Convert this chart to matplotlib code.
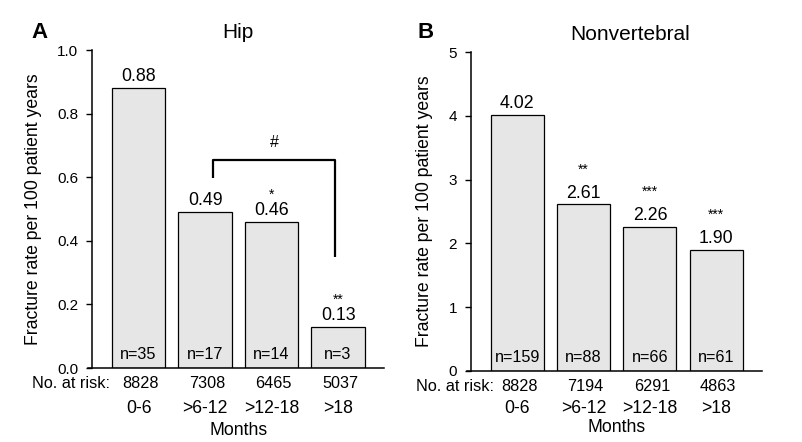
import matplotlib
matplotlib.use("Agg")
import matplotlib.pyplot as plt
import numpy as np

plt.rcParams['font.family'] = ['Liberation Sans', 'DejaVu Sans']

# data
months = ['0-6', '>6-12', '>12-18', '>18']
hip_rate = [0.88, 0.49, 0.46, 0.13]
hip_n = [35, 17, 14, 3]
hip_risk = [8828, 7308, 6465, 5037]
hip_stars = ['', '', '*', '**']
nv_rate = [4.02, 2.61, 2.26, 1.90]
nv_n = [159, 88, 66, 61]
nv_risk = [8828, 7194, 6291, 4863]
nv_stars = ['', '**', '***', '***']

W, H = 803, 442
fig = plt.figure(figsize=(W / 100, H / 100), dpi=100)


def px_axes(l, t, r, b):
    return fig.add_axes([l / W, 1 - b / H, (r - l) / W, (b - t) / H])


def panel(ax, rates, ns, risk, stars, ymax, yticks, fmt, star_off,
          risk_off, cat_off, months_off, label_x, ylab_x):
    x = np.arange(len(rates))
    ax.bar(x, rates, width=0.8, color='#e6e6e6', edgecolor='black', linewidth=0.9)
    ax.set_xlim(-0.7, 3.69)
    ax.set_ylim(0, ymax)
    ax.set_yticks(yticks)
    ax.set_yticklabels([fmt(v) for v in yticks])
    ax.tick_params(axis='y', length=4, width=1, pad=6, labelsize=11)
    ax.set_xticks([])
    for s in ['top', 'right']:
        ax.spines[s].set_visible(False)
    for s in ['left', 'bottom']:
        ax.spines[s].set_linewidth(1.1)
    ax.spines['bottom'].set_bounds(-0.76, 3.69)
    ax.set_ylabel('Fracture rate per 100 patient years', fontsize=12.7)
    ax.yaxis.set_label_coords(ylab_x, 0.5)
    for i, v in enumerate(rates):
        ax.annotate('%.2f' % v, (i, v), xytext=(0, 2), textcoords='offset points',
                    ha='center', va='bottom', fontsize=12.8)
        if stars[i]:
            ax.annotate(stars[i], (i, v), xytext=(0, star_off), textcoords='offset points',
                        ha='center', va='bottom', fontsize=10)
        ax.annotate('n=%d' % ns[i], (i, 0), xytext=(0, 9.5), textcoords='offset points',
                    ha='center', va='center', fontsize=11.7)
        ax.annotate(str(risk[i]), (i + 0.03, 0), xycoords=('data', 'axes fraction'),
                    xytext=(0, -risk_off), textcoords='offset points',
                    ha='center', va='center', fontsize=11.7)
        ax.annotate(months[i], (i, 0), xycoords=('data', 'axes fraction'),
                    xytext=(0, -cat_off), textcoords='offset points',
                    ha='center', va='center', fontsize=12.7)
    ax.annotate('No. at risk:', (label_x, 0), xycoords=('data', 'axes fraction'),
                xytext=(0, -risk_off), textcoords='offset points',
                ha='right', va='center', fontsize=11.7)
    ax.annotate('Months', (1.5, 0), xycoords=('data', 'axes fraction'),
                xytext=(0, -months_off), textcoords='offset points',
                ha='center', va='center', fontsize=12.7)


axA = px_axes(92, 50, 384, 368)
panel(axA, hip_rate, hip_n, hip_risk, hip_stars, 1.0, [0.0, 0.2, 0.4, 0.6, 0.8, 1.0],
      lambda v: '%.1f' % v, 14, 11, 29, 45, -0.43, -0.171)
# bracket between >6-12 and >18
axA.plot([1.12, 1.12, 2.955, 2.955], [0.597, 0.654, 0.654, 0.35], color='black',
         linewidth=1.6, solid_capstyle='butt')
axA.text(2.04, 0.71, '#', ha='center', va='center', fontsize=11.5)

axB = px_axes(471, 52, 762, 371)
panel(axB, nv_rate, nv_n, nv_risk, nv_stars, 5, [0, 1, 2, 3, 4, 5],
      lambda v: '%d' % v, 20, 11, 27, 41, -0.36, -0.131)

fig.text(40 / W, 1 - 33 / H, 'A', fontsize=16, fontweight='bold', ha='center', va='center')
fig.text(238 / W, 1 - 32 / H, 'Hip', fontsize=15, ha='center', va='center')
fig.text(426 / W, 1 - 33 / H, 'B', fontsize=16, fontweight='bold', ha='center', va='center')
fig.text(630 / W, 1 - 34 / H, 'Nonvertebral', fontsize=15, ha='center', va='center')

fig.savefig('out.png', dpi=100)
